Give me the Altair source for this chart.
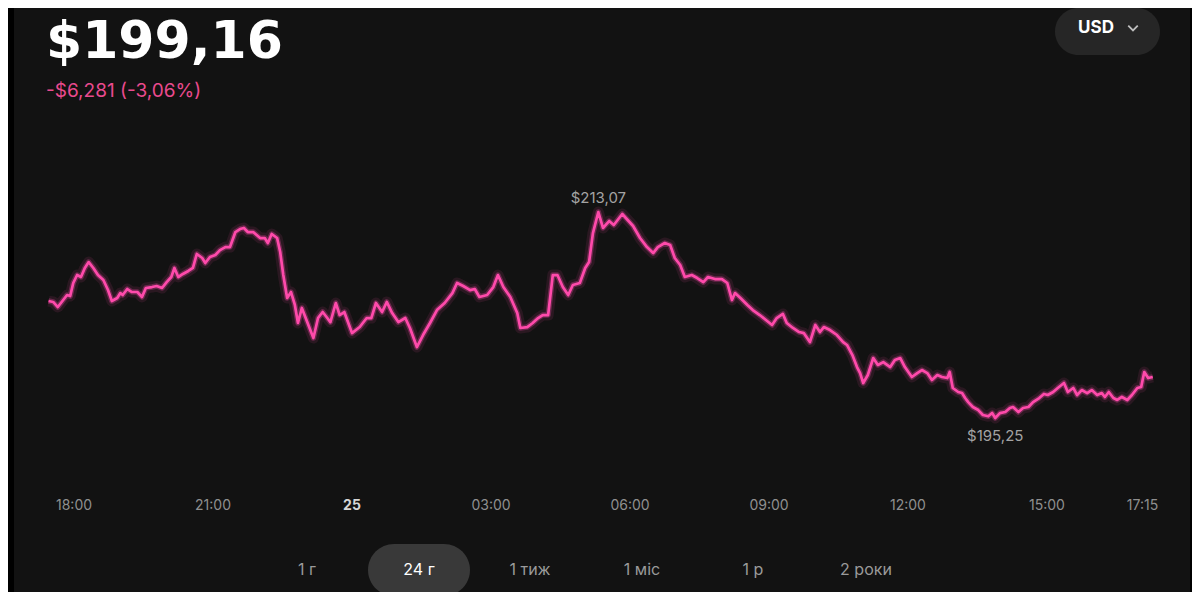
import altair as alt
import pandas as pd

# ---- data (minutes after 18:00 on the 24th, price in USD) ----
minutes = [-33, -27, -21, -14, -9, -5, -1, 4, 9, 14, 19, 25, 31, 38, 44, 49, 56, 60, 63, 69,
           75, 82, 88, 93, 101, 107, 114, 120, 126, 130, 135, 141, 148, 154, 159, 166, 170, 176, 183, 189,
           196, 202, 209, 215, 220, 225, 232, 241, 247, 251, 256, 263, 267, 271, 276, 281, 286, 290, 295, 302,
           310, 316, 322, 328, 332, 339, 344, 350, 360, 370, 379, 385, 391, 399, 405, 412, 420, 429, 435, 444,
           452, 461, 470, 480, 490, 496, 504, 513, 519, 525, 535, 543, 549, 556, 565, 574, 578, 587, 594, 601,
           607, 614, 620, 626, 633, 640, 646, 655, 662, 667, 672, 679, 685, 693, 699, 710, 717, 724, 733, 742,
           750, 756, 765, 772, 778, 785, 791, 800, 807, 815, 821, 830, 839, 846, 852, 856, 863, 872, 879, 888,
           896, 904, 910, 918, 923, 931, 939, 945, 953, 960, 966, 971, 979, 988, 996, 1001, 1008, 1014, 1018, 1022,
           1028, 1035, 1041, 1048, 1057, 1063, 1070, 1076, 1085, 1092, 1098, 1105, 1111, 1118, 1124, 1131, 1134, 1138, 1145, 1150,
           1154, 1158, 1164, 1171, 1177, 1184, 1189, 1193, 1199, 1206, 1212, 1216, 1223, 1229, 1236, 1242, 1250, 1256, 1261, 1268,
           1274, 1282, 1287, 1294, 1299, 1305, 1312, 1318, 1325, 1331, 1335, 1340, 1346, 1351, 1357, 1364, 1370, 1377, 1382, 1386,
           1391, 1397]
prices = [205.37, 205.29, 204.85, 205.46, 205.89, 205.80, 206.93, 207.62, 207.45, 208.23, 208.74, 208.23, 207.62, 207.19, 206.32, 205.37, 205.63, 206.06, 205.89, 206.41,
          206.15, 206.15, 205.72, 206.50, 206.58, 206.67, 206.50, 207.01, 207.45, 208.23, 207.45, 207.71, 207.97, 208.23, 209.44, 209.09, 208.66, 209.18, 209.35, 209.78,
          210.04, 210.04, 211.34, 211.60, 211.69, 211.34, 211.34, 210.82, 210.82, 210.39, 211.17, 210.82, 209.61, 207.62, 205.63, 206.15, 205.03, 203.47, 204.77, 203.55,
          202.17, 203.90, 204.42, 203.90, 203.55, 205.20, 204.16, 204.42, 202.60, 203.12, 203.90, 203.90, 205.20, 204.42, 205.29, 204.33, 203.55, 203.90, 203.04, 201.39,
          202.43, 203.47, 204.59, 205.20, 206.06, 206.93, 206.67, 206.32, 206.41, 205.72, 205.89, 206.58, 207.62, 206.58, 205.72, 204.33, 203.04, 203.12, 203.47, 203.90,
          204.16, 204.16, 207.62, 207.62, 206.58, 205.89, 206.76, 206.93, 208.23, 208.74, 211.25, 213.07, 211.69, 212.29, 211.95, 212.90, 212.38, 211.86, 210.82, 210.04,
          209.52, 210.04, 210.39, 210.22, 209.09, 208.49, 207.45, 207.62, 207.36, 207.01, 207.45, 207.27, 207.27, 206.93, 205.46, 206.06, 205.63, 205.03, 204.59, 204.16,
          203.73, 203.30, 203.90, 204.25, 203.47, 203.04, 202.69, 202.60, 201.82, 203.30, 202.69, 203.12, 202.86, 202.43, 201.82, 201.57, 200.70, 199.66, 199.14, 198.28,
          198.97, 200.44, 199.84, 200.09, 199.66, 200.27, 200.44, 199.66, 198.80, 199.14, 199.40, 199.14, 198.54, 198.97, 198.80, 198.71, 199.23, 197.85, 197.50, 197.41,
          196.98, 196.63, 196.20, 195.94, 195.51, 195.40, 195.68, 195.25, 195.68, 195.77, 196.12, 196.20, 195.77, 196.12, 196.20, 196.63, 196.98, 197.33, 197.24, 197.50,
          197.85, 198.28, 197.50, 197.85, 197.24, 197.67, 197.41, 197.67, 197.24, 197.41, 197.07, 197.50, 196.98, 196.81, 197.07, 196.81, 197.24, 197.85, 197.93, 199.23,
          198.71, 198.80]

tick_values = [0, 180, 360, 540, 720, 900, 1080, 1260, 1395]
tick_labels = ["18:00", "21:00", "25", "03:00", "06:00", "09:00", "12:00", "15:00", "17:15"]
day_label = "25"
last_label = "17:15"

current_price = "$199,16"
change_text = "-$6,281 (-3,06%)"
currency = "USD"
periods = ["1 г", "24 г", "1 тиж", "1 міс", "1 р", "2 роки"]
active_period = "24 г"

# ---- layout / style constants ----
W, H = 1184, 584
BG = "#121212"
PINK = "#ff4aab"
FONT = "Inter"
X_DOMAIN = [-85.5, 1447.8]
Y_DOMAIN = [180.20, 230.72]
BUTTON_X = [299, 411, 522, 634, 745, 858]
TICK_Y = 498

df = pd.DataFrame({"minute": minutes, "price": prices})
ticks_df = pd.DataFrame({"minute": tick_values, "label": tick_labels})

xs = alt.Scale(domain=X_DOMAIN, nice=False, zero=False)
ys = alt.Scale(domain=Y_DOMAIN, nice=False, zero=False)
X = alt.X("minute:Q", scale=xs, axis=None)
Y = alt.Y("price:Q", scale=ys, axis=None)

base = alt.Chart(df)

glow_wide = base.mark_line(color=PINK, strokeWidth=11, opacity=0.10, strokeJoin="round").encode(x=X, y=Y)
glow = base.mark_line(color=PINK, strokeWidth=5.5, opacity=0.30, strokeJoin="round").encode(x=X, y=Y)
line = base.mark_line(color=PINK, strokeWidth=2.7, strokeJoin="round").encode(x=X, y=Y)

label_calc = "'$' + replace(format(datum.price, '.2f'), '.', ',')"
hi = base.transform_joinaggregate(pmax="max(price)").transform_filter(
    "datum.price == datum.pmax").transform_calculate(lbl=label_calc).mark_text(
    font=FONT, fontSize=15, color="#a3a3a3", dy=-14, baseline="middle").encode(x=X, y=Y, text="lbl:N")
lo = base.transform_joinaggregate(pmin="min(price)").transform_filter(
    "datum.price == datum.pmin").transform_calculate(lbl=label_calc).mark_text(
    font=FONT, fontSize=15, color="#a3a3a3", dy=18, baseline="middle").encode(x=X, y=Y, text="lbl:N")

# x tick labels drawn with the same x scale
tk = alt.Chart(ticks_df)
tick_norm = tk.transform_filter(
    f"datum.label != '{day_label}' && datum.label != '{last_label}'").mark_text(
    font=FONT, fontSize=14, color="#8f8f8f", baseline="middle", align="center").encode(
    x=X, y=alt.value(TICK_Y), text="label:N")
tick_day = tk.transform_filter(f"datum.label == '{day_label}'").mark_text(
    font=FONT, fontSize=14, fontWeight="bold", color="#d6d6d6", baseline="middle", align="center").encode(
    x=X, y=alt.value(TICK_Y), text="label:N")
tick_last = tk.transform_filter(f"datum.label == '{last_label}'").mark_text(
    font=FONT, fontSize=14, color="#8f8f8f", baseline="middle", align="right", dx=7).encode(
    x=X, y=alt.value(TICK_Y), text="label:N")

one = alt.Chart(pd.DataFrame({"a": [0]}))

# decorations
strip_l = one.mark_rect(color="#000000").encode(x=alt.value(0), x2=alt.value(6), y=alt.value(0), y2=alt.value(H))
strip_r = one.mark_rect(color="#000000").encode(x=alt.value(1182), x2=alt.value(W), y=alt.value(0), y2=alt.value(H))

title = one.mark_text(font="DejaVu Sans", fontSize=52, fontWeight="bold", color="#ffffff", align="left",
                      baseline="alphabetic").encode(x=alt.value(38), y=alt.value(50), text=alt.value(current_price))
sub = one.mark_text(font=FONT, fontSize=19, color="#ea4a8e", align="left",
                    baseline="alphabetic").encode(x=alt.value(38), y=alt.value(89), text=alt.value(change_text))

usd_pill = one.mark_rect(color="#262626", cornerRadius=24).encode(
    x=alt.value(1047), x2=alt.value(1152), y=alt.value(0), y2=alt.value(47))
usd_txt = one.mark_text(font=FONT, fontSize=17, fontWeight="bold", color="#ffffff", align="center",
                        baseline="middle").encode(x=alt.value(1088), y=alt.value(20), text=alt.value(currency))
chevron = one.mark_point(shape="M-1,-0.5L0,0.5L1,-0.5", filled=False, color="#ffffff", strokeWidth=1.8,
                         size=90).encode(x=alt.value(1125), y=alt.value(20))

btn_df = pd.DataFrame({"label": periods, "px": BUTTON_X})
btn_df["active"] = btn_df["label"] == active_period
active_pill = one.mark_rect(color="#393939", cornerRadius=26).encode(
    x=alt.value(360), x2=alt.value(462), y=alt.value(536), y2=alt.value(588))
buttons = alt.Chart(btn_df).mark_text(font=FONT, fontSize=16, baseline="middle").encode(
    x=alt.X("px:Q", scale=None),
    y=alt.value(562),
    text="label:N",
    color=alt.condition("datum.active", alt.value("#ffffff"), alt.value("#9a9a9a")),
)

chart = alt.layer(
    strip_l, strip_r, usd_pill, usd_txt, chevron, title, sub,
    glow_wide, glow, line, hi, lo, tick_norm, tick_day, tick_last, active_pill, buttons,
).properties(
    width=W, height=H, background=BG, padding=0,
    autosize=alt.AutoSizeParams(type="none"),
).configure_view(stroke=None, fill=BG)

chart.save("out.html", embed_options={"renderer": "svg", "actions": False})
